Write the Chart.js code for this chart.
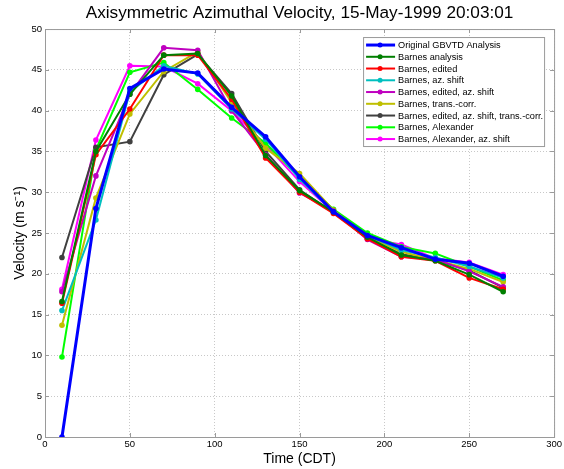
<!DOCTYPE html>
<html>
<head>
<meta charset="utf-8">
<script src="https://cdn.jsdelivr.net/npm/chart.js@4.4.0/dist/chart.umd.min.js"></script>
<style>
	body { margin: 0; background: #ffffff; }
</style>
</head>
<body>
<canvas id="velocityChart" width="564" height="469"></canvas>
<script>
// Time (CDT) of each analysis
const times = [10, 30, 50, 70, 90, 110, 130, 150, 170, 190, 210, 230, 250, 270];

// Azimuthal velocity (m/s), one list per analysis
const originalGbvtd = [0, 28.0, 42.7, 45.1, 44.6, 40.4, 36.8, 31.9, 27.6, 24.7, 23.2, 21.8, 21.3, 19.7];
const barnes = [16.6, 35.0, 42.0, 46.8, 47.0, 41.8, 34.5, 30.2, 27.6, 24.5, 22.3, 21.6, 19.9, 17.8];
const barnesEdited = [16.4, 34.6, 40.2, 46.8, 46.8, 41.4, 34.2, 30.0, 27.4, 24.3, 22.1, 21.6, 19.5, 18.1];
const barnesAzShift = [15.5, 26.6, 42.3, 45.5, 44.5, 40.2, 36.5, 31.6, 27.6, 24.7, 22.9, 22.0, 20.9, 19.5];
const barnesEditedAzShift = [17.8, 32.0, 42.0, 47.7, 47.4, 40.0, 34.6, 29.9, 27.7, 24.2, 22.1, 21.8, 20.3, 18.4];
const barnesTransCorr = [13.7, 29.3, 39.6, 44.8, 47.2, 41.0, 35.4, 32.3, 27.8, 24.6, 22.7, 21.7, 20.6, 19.0];
const barnesAllCorr = [22.0, 35.5, 36.2, 44.4, 46.9, 42.1, 35.0, 30.3, 27.5, 24.4, 22.4, 21.7, 20.4, 18.3];
const barnesAlexander = [9.8, 35.2, 44.7, 45.9, 42.6, 39.1, 36.0, 31.8, 27.9, 25.0, 23.3, 22.5, 20.9, 19.2];
const barnesAlexanderAzShift = [18.1, 36.4, 45.5, 45.4, 43.3, 40.0, 35.8, 31.3, 27.6, 24.3, 23.6, 21.9, 21.4, 19.9];

const seriesLabels = [
	"Original GBVTD Analysis",
	"Barnes analysis",
	"Barnes, edited",
	"Barnes, az. shift",
	"Barnes, edited, az. shift",
	"Barnes, trans.-corr.",
	"Barnes, edited, az. shift, trans.-corr.",
	"Barnes, Alexander",
	"Barnes, Alexander, az. shift",
];
const seriesValues = [
	originalGbvtd, barnes, barnesEdited, barnesAzShift, barnesEditedAzShift,
	barnesTransCorr, barnesAllCorr, barnesAlexander, barnesAlexanderAzShift,
];

function getColorForSeries(index) {
	const colorList = ["#0000ff", "#007f00", "#ff0000", "#00bfbf", "#bf00bf", "#bfbf00", "#404040", "#00ff00", "#ff00ff"];
	return colorList[index] || "#000000";
}

const axisGray = "#9a9a9a";

// MATLAB-style box round the axes with short inward ticks on every side
const axesBox = {
	id: "axesBox",
	afterDatasetsDraw(chart) {
		const { ctx, chartArea: a, scales } = chart;
		ctx.save();
		ctx.strokeStyle = axisGray;
		ctx.lineWidth = 1;
		ctx.strokeRect(a.left + 0.5, a.top + 0.5, a.right - a.left, a.bottom - a.top);
		ctx.beginPath();
		scales.x.ticks.forEach((t) => {
			const px = Math.round(scales.x.getPixelForValue(t.value)) + 0.5;
			ctx.moveTo(px, a.bottom); ctx.lineTo(px, a.bottom - 4);
			ctx.moveTo(px, a.top); ctx.lineTo(px, a.top + 4);
		});
		scales.y.ticks.forEach((t) => {
			const py = Math.round(scales.y.getPixelForValue(t.value)) + 0.5;
			ctx.moveTo(a.left, py); ctx.lineTo(a.left + 4, py);
			ctx.moveTo(a.right, py); ctx.lineTo(a.right - 4, py);
		});
		ctx.stroke();
		ctx.restore();
	},
};

// Boxed legend in the upper right corner of the axes
const boxLegend = {
	id: "boxLegend",
	afterDraw(chart) {
		const { ctx, chartArea: a } = chart;
		const left = a.right - 191;
		const top = a.top + 8;
		ctx.save();
		ctx.fillStyle = "#ffffff";
		ctx.fillRect(left, top, 181, 109);
		ctx.strokeStyle = axisGray;
		ctx.lineWidth = 1;
		ctx.strokeRect(left + 0.5, top + 0.5, 181, 109);
		ctx.font = "9.2px 'Liberation Sans', Arial, sans-serif";
		ctx.textBaseline = "middle";
		chart.data.datasets.forEach((ds, i) => {
			const y = top + 8 + i * 11.75;
			ctx.strokeStyle = ds.borderColor;
			ctx.fillStyle = ds.borderColor;
			ctx.lineWidth = ds.borderWidth;
			ctx.beginPath();
			ctx.moveTo(left + 3, y);
			ctx.lineTo(left + 32, y);
			ctx.stroke();
			ctx.beginPath();
			ctx.arc(left + 17, y, 2.5, 0, Math.PI * 2);
			ctx.fill();
			ctx.fillStyle = "#000000";
			ctx.fillText(ds.label, left + 35, y + 0.5);
		});
		ctx.restore();
	},
};

const datasets = seriesValues.map((values, i) => ({
	label: seriesLabels[i],
	data: times.map((t, j) => ({ x: t, y: values[j] })),
	borderColor: getColorForSeries(i),
	backgroundColor: getColorForSeries(i),
	borderWidth: i === 0 ? 3 : 2,
	pointRadius: 2.8,
	pointBorderWidth: 0,
	tension: 0,
}));

const tickFont = { family: "'Liberation Sans', Arial, sans-serif", size: 9.5 };
const titleFont = { family: "'Liberation Sans', Arial, sans-serif", size: 14 };

new Chart(document.getElementById("velocityChart"), {
	type: "line",
	data: { datasets },
	plugins: [axesBox, boxLegend],
	options: {
		responsive: false,
		animation: false,
		devicePixelRatio: 1,
		layout: { padding: { left: 0, right: 8, top: 0, bottom: 0 } },
		plugins: {
			legend: { display: false },
			tooltip: { enabled: false },
			title: {
				display: true,
				fullSize: false,
				text: "Axisymmetric Azimuthal Velocity, 15-May-1999 20:03:01",
				color: "#000000",
				font: { family: "'Liberation Sans', Arial, sans-serif", size: 17.2, weight: "normal" },
				padding: { top: 3, bottom: 5.4 },
			},
		},
		scales: {
			x: {
				type: "linear",
				min: 0,
				max: 300,
				ticks: { stepSize: 50, color: "#000000", font: tickFont, padding: 2, maxRotation: 0 },
				grid: { color: "#c8c8c8", drawTicks: false },
				border: { display: false, dash: [1, 2] },
				title: { display: true, text: "Time (CDT)", color: "#000000", font: titleFont, padding: { top: 0, bottom: 1 } },
				afterFit: (scale) => { scale.height = 32; },
			},
			y: {
				min: 0,
				max: 50,
				ticks: { stepSize: 5, color: "#000000", font: tickFont, padding: 3 },
				grid: { color: "#c8c8c8", drawTicks: false },
				border: { display: false, dash: [1, 2] },
				title: { display: true, text: "Velocity (m s\u207B\u00B9)", color: "#000000", font: titleFont, padding: { top: 12, bottom: 0 } },
				afterFit: (scale) => { scale.width = 45; },
			},
		},
	},
});
</script>
</body>
</html>
